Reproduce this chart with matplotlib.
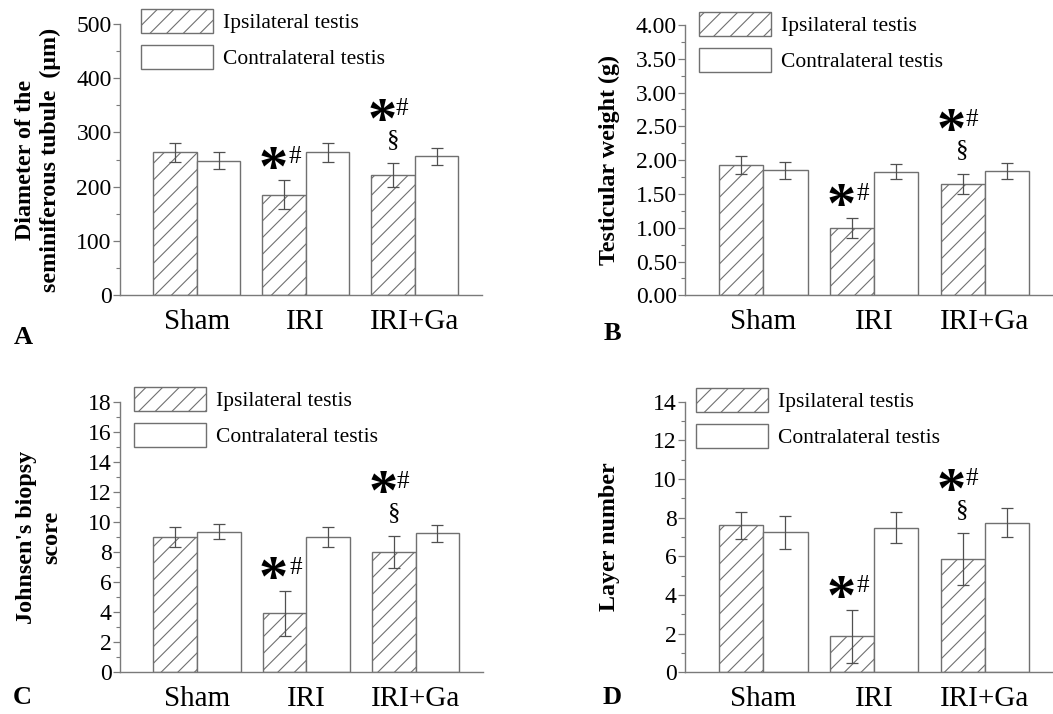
"""
Testis measurements after ischemia-reperfusion: four bar panels (A-D),
ipsilateral (hatched) vs contralateral (open) testis.
"""

import numpy as np
import matplotlib
matplotlib.use("Agg")
import matplotlib.pyplot as plt
from matplotlib.ticker import MultipleLocator, FormatStrFormatter

plt.rcParams["font.family"] = ["Liberation Serif", "DejaVu Serif"]
plt.rcParams["hatch.color"] = "#5a5a5a"
plt.rcParams["hatch.linewidth"] = 0.8

# Data
# ====
groups = ["Sham", "IRI", "IRI+Ga"]
series_names = ["Ipsilateral testis", "Contralateral testis"]

diameter_ipsi = [263, 185, 221]
diameter_ipsi_err = [18, 27, 22]
diameter_contra = [248, 263, 256]
diameter_contra_err = [16, 17, 16]

weight_ipsi = [1.93, 1.00, 1.65]
weight_ipsi_err = [0.13, 0.15, 0.15]
weight_contra = [1.85, 1.83, 1.84]
weight_contra_err = [0.13, 0.11, 0.12]

johnsen_ipsi = [9.0, 3.9, 8.0]
johnsen_ipsi_err = [0.66, 1.5, 1.08]
johnsen_contra = [9.35, 9.0, 9.25]
johnsen_contra_err = [0.5, 0.66, 0.58]

layer_ipsi = [7.6, 1.86, 5.85]
layer_ipsi_err = [0.71, 1.38, 1.35]
layer_contra = [7.24, 7.48, 7.74]
layer_contra_err = [0.84, 0.81, 0.76]

EDGE = "#707070"
SPINE = "#7a7a7a"
BAR_W = 0.4
STAR_FS = 42
MARK_FS = 18


def mark(ax, x, y, s, fs, rel, **kw):
    # place glyph so that its ink centre sits at (x, y); rel = ink centre height in em
    ax.annotate(s, (x, y), xytext=(0, -rel * fs), textcoords="offset points",
                fontsize=fs, ha="center", va="baseline", **kw)


def panel(ax, ipsi, ipsi_err, contra, contra_err, ymax, major, minor, fmt,
          ylabel, label_x, legend_xy):
    x = np.arange(len(groups))
    ax.bar(x - BAR_W / 2, ipsi, BAR_W, color="white", edgecolor=EDGE,
           hatch="//", linewidth=1.0, label=series_names[0], zorder=2)
    ax.bar(x + BAR_W / 2, contra, BAR_W, color="white", edgecolor=EDGE,
           linewidth=1.0, label=series_names[1], zorder=2)
    ax.errorbar(x - BAR_W / 2, ipsi, yerr=ipsi_err, fmt="none", ecolor="#505050",
                elinewidth=0.9, capsize=4, capthick=0.9, zorder=3)
    ax.errorbar(x + BAR_W / 2, contra, yerr=contra_err, fmt="none", ecolor="#505050",
                elinewidth=0.9, capsize=4, capthick=0.9, zorder=3)

    ax.set_xlim(-0.706, 2.62)
    ax.set_ylim(0, ymax)
    ax.set_xticks(x)
    ax.set_xticklabels(groups, fontsize=21)
    ax.tick_params(axis="x", length=0, pad=10)
    ax.yaxis.set_major_locator(MultipleLocator(major))
    ax.yaxis.set_minor_locator(MultipleLocator(minor))
    ax.yaxis.set_major_formatter(FormatStrFormatter(fmt))
    ax.tick_params(axis="y", which="major", labelsize=17, length=5, width=0.9,
                   color=SPINE, pad=1)
    ax.tick_params(axis="y", which="minor", length=3, width=0.8, color=SPINE)
    for side in ("top", "right"):
        ax.spines[side].set_visible(False)
    for side in ("left", "bottom"):
        ax.spines[side].set_color(SPINE)
        ax.spines[side].set_linewidth(1.0)

    ax.set_ylabel(ylabel, fontsize=17.3, fontweight="bold", linespacing=1.25,
                  va="center")
    ax.yaxis.set_label_coords(label_x, 0.5)

    ax.legend(loc="upper left", bbox_to_anchor=legend_xy, frameon=False,
              fontsize=15.5, handlelength=3.35, handleheight=1.35,
              handletextpad=0.45, labelspacing=0.55, borderpad=0,
              borderaxespad=0)

    # significance marks over the ipsilateral IRI and IRI+Ga bars
    tops = np.array(ipsi) + np.array(ipsi_err)
    xi = 1 - BAR_W / 2
    y1 = tops[1] + 0.095 * ymax
    mark(ax, xi - 0.1, y1 - 0.006 * ymax, "*", STAR_FS, 0.49, fontweight="bold")
    mark(ax, xi + 0.1, y1, "#", MARK_FS, 0.34)
    xg = 2 - BAR_W / 2
    ys = tops[2] + 0.09 * ymax
    mark(ax, xg, ys, "§", MARK_FS, 0.28)
    y2 = ys + 0.118 * ymax
    mark(ax, xg - 0.1, y2 - 0.004 * ymax, "*", STAR_FS, 0.49, fontweight="bold")
    mark(ax, xg + 0.085, y2, "#", MARK_FS, 0.34)


fig = plt.figure(figsize=(10.53, 7.14), dpi=100)

ax_a = fig.add_axes([0.114, 0.5868, 0.344, 0.3796])
ax_b = fig.add_axes([0.6505, 0.5864, 0.350, 0.3786])
ax_c = fig.add_axes([0.114, 0.0592, 0.345, 0.3774])
ax_d = fig.add_axes([0.6505, 0.0584, 0.350, 0.3790])

panel(ax_a, diameter_ipsi, diameter_ipsi_err, diameter_contra, diameter_contra_err,
      500, 100, 50, "%d", "Diameter of the\nseminiferous tubule  (\u03bcm)",
      -0.2265, (0.058, 1.055))
panel(ax_b, weight_ipsi, weight_ipsi_err, weight_contra, weight_contra_err,
      4.0, 0.5, 0.25, "%.2f", "Testicular weight (g)",
      -0.204, (0.038, 1.048))
panel(ax_c, johnsen_ipsi, johnsen_ipsi_err, johnsen_contra, johnsen_contra_err,
      18, 2, 1, "%d", "Johnsen's biopsy\nscore",
      -0.223, (0.0386, 1.058))
panel(ax_d, layer_ipsi, layer_ipsi_err, layer_contra, layer_contra_err,
      14, 2, 1, "%d", "Layer number",
      -0.204, (0.030, 1.052))

for letter, px, py in [("A", 23, 337), ("B", 612, 333), ("C", 22, 697), ("D", 612, 697)]:
    fig.text(px / 1053, 1 - py / 714, letter, fontsize=19, fontweight="bold",
             ha="center", va="center")

fig.savefig("out.png", dpi=100)
